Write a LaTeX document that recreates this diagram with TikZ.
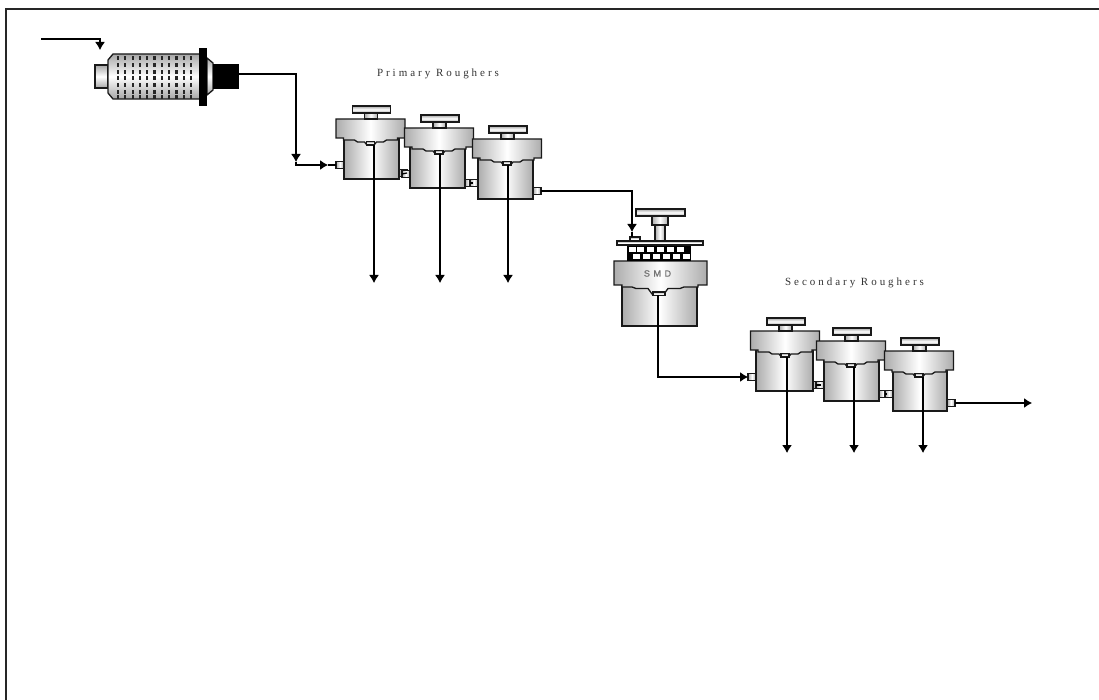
\documentclass[tikz,border=0pt]{standalone}
\usepackage{fontspec}
\setmainfont{Liberation Serif}
\newfontfamily\spacedserif[LetterSpace=27]{Liberation Serif}
\newfontfamily\spacedsans[LetterSpace=40,FakeBold=1]{Liberation Sans}
\usetikzlibrary{positioning, calc, arrows.meta}

\tikzset{
    stream/.style={line width=1.2pt},
    tipped/.style={stream, -{Latex[length=8pt,width=10pt]}},
    outline/.style={draw=black!90, line width=1.3pt},
    steel/.style={outline, left color=gray!65, right color=gray!65, middle color=white},
    steelv/.style={outline, top color=gray!70, bottom color=gray!70, middle color=white},
    titletext/.style={inner sep=0pt, text=black!80, font=\spacedserif\fontsize{11}{13}\selectfont},
    % flotation cell: body left, body right, inlet height, outlet height
    pics/cell/.style n args={4}{code={
        \path[steel] (#1,12) rectangle (#2,60);
        \path[steel] (-34.5,0) -- (34.5,0) -- (34.5,19) -- (27,19) -- (27,21) -- (16,21) -- (13,23) -- (6,23) -- (4,25.5)
            -- (-4,25.5) -- (-6,23) -- (-13,23) -- (-16,21) -- (-27,21) -- (-27,19) -- (-34.5,19) -- cycle;
        \path[steelv] (-4,22.5) rectangle (4,26);
        \path[steelv] (-18,-13) rectangle (20,-6);
        \path[steel] (-6,-6) rectangle (7,0);
        \path[steel] (#1-8,#3-3.5) rectangle (#1,#3+3.5);
        \path[steel] (#2,#4-3.5) rectangle (#2+8,#4+3.5);
        \coordinate (-in) at (#1-8,#3);
        \coordinate (-out) at (#2+8,#4);
        \coordinate (-tail) at (4,26);
    }}
}

\begin{document}
\begin{tikzpicture}[x=1pt, y=-1pt, >=Latex]
    % Frame
    \path[use as bounding box] (0,0) rectangle (1099,700);
    \draw[line width=2.2pt, black!85] (6,700) -- (6,9) -- (1099,9);

    % Mill
    \path[steelv] (95,65) rectangle (108,88);
    \path[steelv] (108,60) -- (113,54) -- (200,54) -- (200,99) -- (113,99) -- (108,93) -- cycle;
    \path[steelv] (207,58) -- (213,63) -- (213,90) -- (207,95) -- cycle;
    \foreach \x in {118,125.3,...,195} {
        \foreach \y in {58,65,72,78,85,92,97} {
            \fill[black!85] (\x-1.1,\y-1.8) rectangle (\x+1.1,\y+1.8);
        }
    }
    \fill (199,48) rectangle (207,106);
    \node[fill=black, minimum width=26pt, minimum height=25pt, inner sep=0pt] (drive) at (226,76.5) {};

    % Primary cells
    \pic (prim1) at (370.5,119) {cell={-26.5}{28.5}{46}{54}};
    \pic (prim2) at (439,128) {cell={-29}{26}{46}{55}};
    \pic (prim3) at (507,139) {cell={-29}{26}{44}{52}};

    % SMD
    \path[steel] (622,280) rectangle (697,326);
    \path[steel] (614,261) -- (707,261) -- (707,285) -- (698,285) -- (698,287) -- (684,287) -- (680,288.5) -- (668,288.5) -- (664,294)
        -- (652,294) -- (648,288.5) -- (636,288.5) -- (632,287) -- (622,287) -- (622,285) -- (614,285) -- cycle;
    \path[steelv] (653,292) rectangle (665,295.5);
    \fill (627,245) rectangle (691,261);
    \foreach \x/\y in {629/247,637/247,647/247,657/247,667/247,677/247,633/254,643/254,653/254,663/254,673/254,683/254} {
        \fill[white] (\x,\y) rectangle (\x+7,\y+5);
    }
    \path[steel] (655,216) rectangle (665,241);
    \path[steel] (652,216) rectangle (668,225);
    \path[steelv] (636,209) rectangle (685,216);
    \path[steelv] (617,241) rectangle (703,245);
    \path[steelv] (630,237) rectangle (640,241);
    \node[inner sep=0pt, text=black!55, font=\spacedsans\fontsize{9}{11}\selectfont] (smd) at (657.5,273.5) {SMD};

    % Secondary cells
    \pic (sec1) at (785,331) {cell={-29}{28}{46}{54}};
    \pic (sec2) at (851,341) {cell={-27}{28}{44}{53}};
    \pic (sec3) at (919,351) {cell={-26}{28}{43}{52}};

    % Labels
    \node[titletext] (primlabel) at (438,74) {Primary Roughers};
    \node[titletext] (seclabel) at (854.5,283) {Secondary Roughers};

    % Streams
    \coordinate (feed) at (41,39);
    \coordinate (feedend) at (100,50);
    \coordinate (millout) at (239,74);
    \coordinate (millbend) at (296,162);
    \coordinate (millend) at (328,165);
    \coordinate (smdin) at (632,232);
    \coordinate (smdport) at (632,237);
    \coordinate (smdout) at (658,295);
    \coordinate (smdend) at (748,377);
    \coordinate (prod) at (1032,403);
    \draw[tipped] (feed) -| (feedend);
    \draw[tipped] (millout) -| (millbend);
    \draw[tipped] (millbend) |- (millend);
    \draw[stream] (millend) -- (prim1-in);
    \draw[stream] (prim1-out) -- (prim2-in);
    \draw[stream] (prim2-out) -- (prim3-in);
    \draw[tipped] (prim3-out) -| (smdin);
    \draw[stream] (smdin) -- (smdport);
    \draw[tipped] (smdout) |- (smdend);
    \draw[stream] (smdend) -- (sec1-in);
    \draw[stream] (sec1-out) -- (sec2-in);
    \draw[stream] (sec2-out) -- (sec3-in);
    \draw[tipped] (sec3-out) -- (prod);

    % Tailings
    \foreach \c/\xe/\ye in {prim1/374/283,prim2/440/283,prim3/508/283,sec1/787/453,sec2/854/453,sec3/923/453} {
        \draw[tipped] (\xe,0 |- \c-tail) -- (\xe,\ye);
    }
\end{tikzpicture}
\end{document}
